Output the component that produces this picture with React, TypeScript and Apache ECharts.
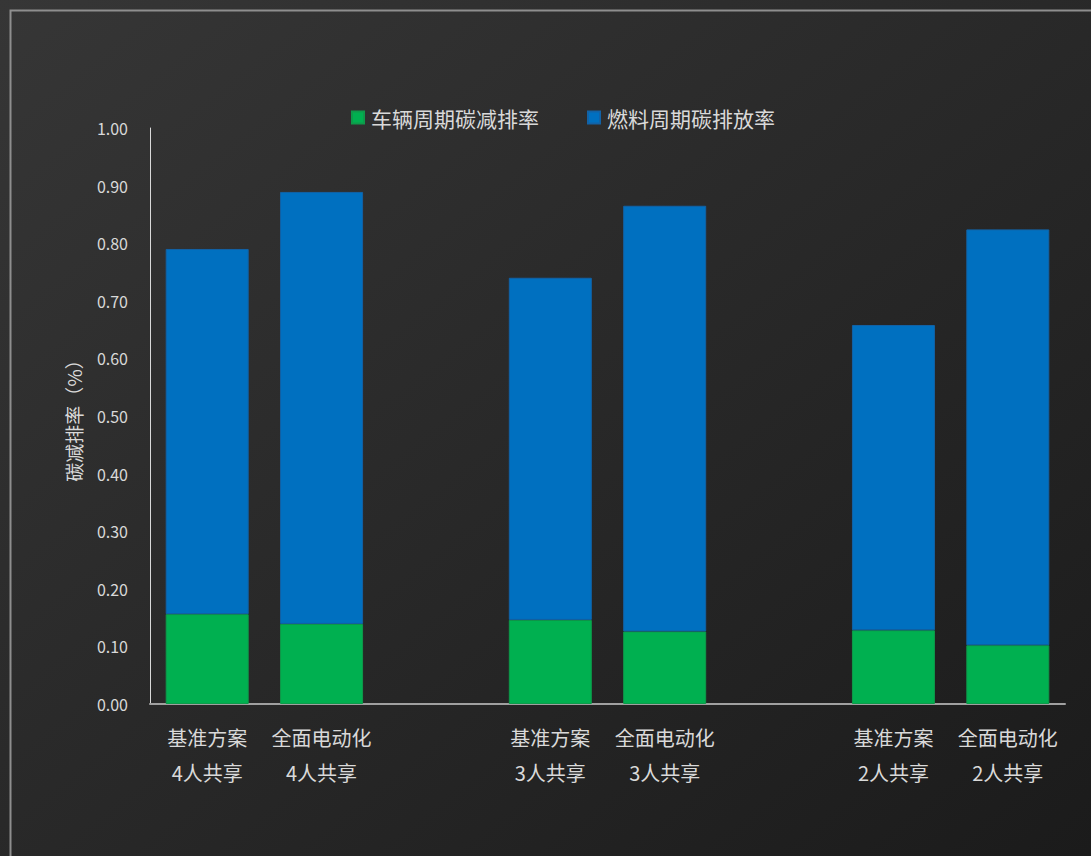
import React, { useEffect, useRef } from "react";
import * as echarts from "echarts";

const categories = [
  "基准方案\n4人共享",
  "全面电动化\n4人共享",
  "",
  "基准方案\n3人共享",
  "全面电动化\n3人共享",
  "",
  "基准方案\n2人共享",
  "全面电动化\n2人共享",
];
const seriesNames = ["车辆周期碳减排率", "燃料周期碳排放率"];
const vehicleValues: (number | string)[] = [0.156, 0.139, "-", 0.146, 0.126, "-", 0.128, 0.102];
const fuelValues: (number | string)[] = [0.634, 0.75, "-", 0.594, 0.739, "-", 0.53, 0.722];
const yTicks = { min: 0, max: 1, interval: 0.1 };

const FONT = "'Noto Sans CJK SC', 'Noto Sans', sans-serif";

export default function App() {
  const ref = useRef<HTMLDivElement>(null);
  useEffect(() => {
    document.body.style.margin = "0";
    document.body.style.overflow = "hidden";
    const chart = echarts.init(ref.current!, null, { renderer: "svg" });
    chart.setOption({
      animation: false,
      backgroundColor: {
        type: "linear",
        x: 0,
        y: 0,
        x2: 1,
        y2: 1,
        colorStops: [
          { offset: 0, color: "#363636" },
          { offset: 1, color: "#1b1b1b" },
        ],
      },
      textStyle: { fontFamily: FONT },
      graphic: [
        {
          type: "rect",
          left: 8,
          top: 8,
          shape: { width: 1200, height: 1000 },
          style: { fill: "none", stroke: "#8e8e8e", lineWidth: 2 },
          silent: true,
        },
      ],
      legend: {
        left: 346,
        top: 102,
        itemWidth: 12,
        itemHeight: 12,
        itemGap: 48,
        icon: "rect",
        textStyle: { color: "#d9d9d9", fontSize: 21, fontFamily: FONT, padding: [0, 0, 0, 2] },
        data: seriesNames,
      },
      grid: { left: 150, right: 26, top: 128, bottom: 152 },
      xAxis: {
        type: "category",
        data: categories,
        axisLine: { lineStyle: { color: "#a0a0a0", width: 2 } },
        axisTick: { show: false },
        axisLabel: {
          color: "#d9d9d9",
          fontSize: 20,
          lineHeight: 35,
          margin: 16,
          interval: 0,
          fontFamily: FONT,
        },
      },
      yAxis: {
        type: "value",
        min: yTicks.min,
        max: yTicks.max,
        interval: yTicks.interval,
        name: "碳减排率（%）",
        nameLocation: "middle",
        nameGap: 67,
        nameRotate: 90,
        nameTextStyle: { color: "#d9d9d9", fontSize: 19, fontFamily: FONT },
        axisLine: { show: true, lineStyle: { color: "#d9d9d9", width: 1 } },
        axisTick: { show: false },
        splitLine: { show: false },
        axisLabel: {
          color: "#d9d9d9",
          fontSize: 16,
          margin: 22,
          fontFamily: FONT,
          formatter: (v: number) => v.toFixed(2),
        },
      },
      series: [
        {
          name: seriesNames[0],
          type: "bar",
          stack: "total",
          barWidth: 83,
          data: vehicleValues,
          itemStyle: { color: "#00B050", borderColor: "#0e9a4a", borderWidth: 1 },
        },
        {
          name: seriesNames[1],
          type: "bar",
          stack: "total",
          barWidth: 83,
          data: fuelValues,
          itemStyle: { color: "#0070C0", borderColor: "#1262a6", borderWidth: 1 },
        },
      ],
    });
    return () => chart.dispose();
  }, []);
  return <div ref={ref} style={{ width: 1091, height: 856 }} />;
}
